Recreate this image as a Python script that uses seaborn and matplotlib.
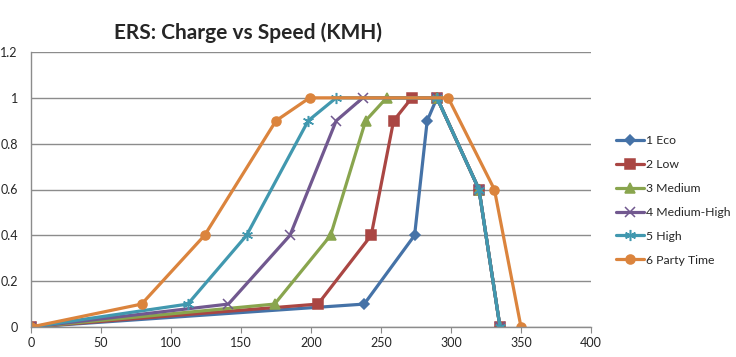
import pandas as pd
import matplotlib
matplotlib.use("Agg")
import matplotlib.pyplot as plt
import seaborn as sns

# series data (speed km/h -> charge)
eco_speed = [0, 238, 274, 283, 290, 320, 335]
eco_charge = [0, 0.1, 0.4, 0.9, 1.0, 0.6, 0]
low_speed = [0, 205, 243, 259, 272, 290, 320, 335]
low_charge = [0, 0.1, 0.4, 0.9, 1.0, 1.0, 0.6, 0]
medium_speed = [0, 174, 214, 239, 254, 290, 320, 335]
medium_charge = [0, 0.1, 0.4, 0.9, 1.0, 1.0, 0.6, 0]
medhigh_speed = [0, 141, 185, 218, 237, 290, 320, 335]
medhigh_charge = [0, 0.1, 0.4, 0.9, 1.0, 1.0, 0.6, 0]
high_speed = [0, 112, 154, 198, 218, 290, 320, 335]
high_charge = [0, 0.1, 0.4, 0.9, 1.0, 1.0, 0.6, 0]
party_speed = [0, 79, 124, 175, 199, 298, 331, 350]
party_charge = [0, 0.1, 0.4, 0.9, 1.0, 1.0, 0.6, 0]

series_names = ["1 Eco", "2 Low", "3 Medium", "4 Medium-High", "5 High", "6 Party Time"]
series = [
    (eco_speed, eco_charge),
    (low_speed, low_charge),
    (medium_speed, medium_charge),
    (medhigh_speed, medhigh_charge),
    (high_speed, high_charge),
    (party_speed, party_charge),
]

# %%
sns.set_style("white")
plt.rcParams["font.family"] = ["Lato", "DejaVu Sans"]

colors = ["#4572A7", "#AA4643", "#89A54E", "#71588F", "#4198AF", "#DB843D"]
markers = ["D", "s", "^", "x", (6, 2, 0), "o"]
msizes = [5, 6.5, 6.5, 7, 8, 6.5]

fig = plt.figure(figsize=(7.36, 3.57), dpi=100)
ax = fig.add_axes([31 / 736, 1 - 327 / 357, 560 / 736, 275 / 357])

for name, (xs, ys), c, m, ms in zip(series_names, series, colors, markers, msizes):
    df = pd.DataFrame({"Speed": xs, "Charge": ys})
    sns.lineplot(
        data=df,
        x="Speed",
        y="Charge",
        sort=False,
        estimator=None,
        color=c,
        marker=m,
        markersize=ms,
        markeredgecolor=c,
        markeredgewidth=1.1,
        linewidth=2.3,
        label=name,
        ax=ax,
    )

ax.set_xlim(0, 400)
ax.set_ylim(0, 1.2)
ax.set_xticks(range(0, 401, 50))
ax.set_yticks([0, 0.2, 0.4, 0.6, 0.8, 1.0, 1.2])
ax.set_yticklabels(["0", "0.2", "0.4", "0.6", "0.8", "1", "1.2"])
ax.set_xlabel("")
ax.set_ylabel("")
ax.yaxis.grid(True, color="#8c8c8c", linewidth=1)
ax.set_axisbelow(True)
for s in ["top", "right"]:
    ax.spines[s].set_visible(False)
for s in ["left", "bottom"]:
    ax.spines[s].set_color("#8c8c8c")
    ax.spines[s].set_linewidth(1)
ax.tick_params(axis="x", bottom=True, length=4, color="#8c8c8c", labelsize=9, pad=3)
ax.tick_params(axis="y", left=False, labelsize=9, pad=6)

fig.text(248 / 736, 1 - 33 / 357, "ERS: Charge vs Speed (KMH)", ha="center", va="center",
         fontsize=15, fontweight="bold")

ax.legend(
    loc="center left",
    bbox_to_anchor=(1.045, 0.46),
    borderaxespad=0,
    borderpad=0,
    frameon=False,
    fontsize=8.8,
    handlelength=2.3,
    handletextpad=0.1,
    labelspacing=1.05,
)

plt.savefig("out.png", dpi=100)
